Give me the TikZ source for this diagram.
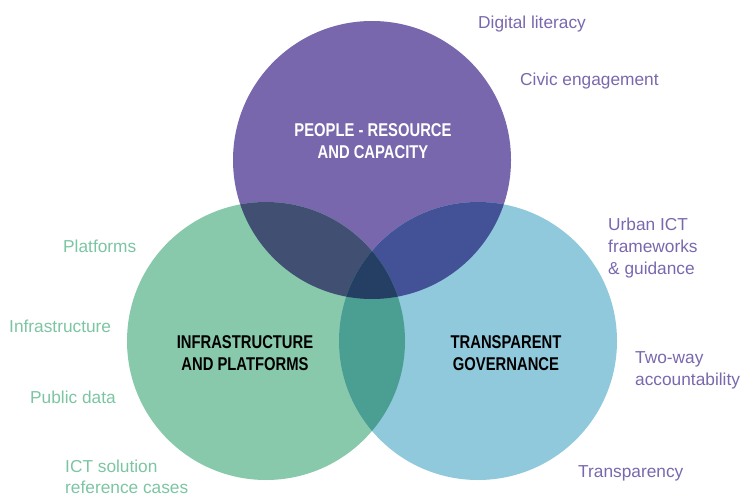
\documentclass[tikz,border=0pt]{standalone}
\usepackage{fontspec}
\setmainfont{Liberation Sans}
\newfontfamily\labfont{Liberation Sans}[FakeStretch=1.0]
\newfontfamily\ttlfont{Liberation Sans}[FakeStretch=0.8]
\definecolor{cPurple}{HTML}{7867AC}
\definecolor{cGreen}{HTML}{88C9AC}
\definecolor{cBlue}{HTML}{90C9DC}
\definecolor{cPG}{HTML}{404F72}
\definecolor{cPB}{HTML}{435196}
\definecolor{cGB}{HTML}{4B9E92}
\definecolor{cAll}{HTML}{243F63}
\definecolor{lPurple}{HTML}{7A68AE}
\definecolor{lGreen}{HTML}{7CC5A3}
\begin{document}
\begin{tikzpicture}[x=1pt,y=-1pt,
  lab/.style={anchor=base west,inner sep=0pt,font=\labfont\fontsize{17.3}{20}\selectfont},
  plab/.style={lab,text=lPurple},
  glab/.style={lab,text=lGreen},
  ttl/.style={anchor=base,inner sep=0pt,font=\ttlfont\bfseries\fontsize{18.5}{22}\selectfont}]
\useasboundingbox (0,0) rectangle (743,497);
% circles
\coordinate (cT) at (372,160);
\coordinate (cL) at (266,341);
\coordinate (cR) at (478,341);
\def\rad{139}
\fill[cPurple] (cT) circle[radius=\rad];
\fill[cGreen] (cL) circle[radius=\rad];
\fill[cBlue] (cR) circle[radius=\rad];
\begin{scope}
  \clip (cT) circle[radius=\rad];
  \fill[cPG] (cL) circle[radius=\rad];
  \fill[cPB] (cR) circle[radius=\rad];
\end{scope}
\begin{scope}
  \clip (cL) circle[radius=\rad];
  \fill[cGB] (cR) circle[radius=\rad];
\end{scope}
\begin{scope}
  \clip (cT) circle[radius=\rad];
  \clip (cL) circle[radius=\rad];
  \fill[cAll] (cR) circle[radius=\rad];
\end{scope}
% titles
\node[ttl,text=white] (t1a) at (373,137) {PEOPLE - RESOURCE};
\node[ttl,text=white] (t1b) at (373,159) {AND CAPACITY};
\node[ttl,text=black] (t2a) at (245,348) {INFRASTRUCTURE};
\node[ttl,text=black] (t2b) at (245,370) {AND PLATFORMS};
\node[ttl,text=black] (t3a) at (506,348) {TRANSPARENT};
\node[ttl,text=black] (t3b) at (506,370) {GOVERNANCE};
% purple labels
\node[plab] (p1) at (478,29) {Digital literacy};
\node[plab] (p2) at (520,86) {Civic engagement};
\node[plab] (p3a) at (608,230) {Urban ICT};
\node[plab] (p3b) at (608,252) {frameworks};
\node[plab] (p3c) at (608,274) {\& guidance};
\node[plab] (p4a) at (635,363) {Two-way};
\node[plab] (p4b) at (635,385) {accountability};
\node[plab] (p5) at (578,477) {Transparency};
% green labels
\node[glab] (g1) at (63,252) {Platforms};
\node[glab] (g2) at (9,332) {Infrastructure};
\node[glab] (g3) at (30,403) {Public data};
\node[glab] (g4a) at (65,472) {ICT solution};
\node[glab] (g4b) at (65,493) {reference cases};
\end{tikzpicture}
\end{document}
